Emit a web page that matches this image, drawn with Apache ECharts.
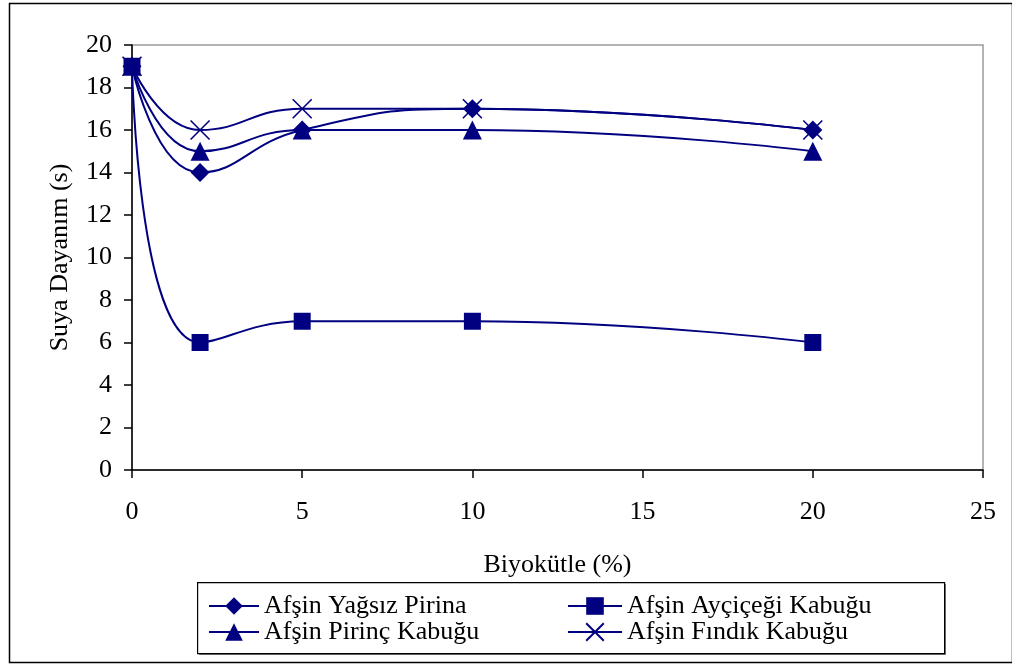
<!DOCTYPE html>
<html>
<head>
<meta charset="utf-8">
<script src="https://cdn.jsdelivr.net/npm/echarts@6/dist/echarts.min.js"></script>
<style>
  html, body { margin: 0; padding: 0; background: #fff; }
  #chart { width: 1012px; height: 664px; }
</style>
</head>
<body>
<div id="chart"></div>
<script>
// Biomass ratio (%) on the x axis
const biyokutle = [0, 2, 5, 10, 20];

// Water resistance (s) for each biomass type
const yagsizPirina = [19, 14, 16, 17, 16];
const aycicegiKabugu = [19, 6, 7, 7, 6];
const pirincKabugu = [19, 15, 16, 16, 15];
const findikKabugu = [19, 16, 17, 17, 16];

const seriesNames = [
  'Afşin Yağsız Pirina',
  'Afşin Ayçiçeği Kabuğu',
  'Afşin Pirinç Kabuğu',
  'Afşin Fındık Kabuğu'
];

const NAVY = '#000080';
const FONT = '"Liberation Serif", "Times New Roman", serif';
const FS = 26;

function pairs(ys) {
  return biyokutle.map((x, i) => [x, ys[i]]);
}

function lineSeries(name, ys, symbol, size, extra) {
  return Object.assign({
    name: name,
    type: 'line',
    data: pairs(ys),
    smooth: 0.5,
    symbol: symbol,
    symbolSize: size,
    showAllSymbol: true,
    lineStyle: { color: NAVY, width: 2 },
    itemStyle: { color: NAVY },
    emphasis: { disabled: true },
    animation: false
  }, extra || {});
}

const chart = echarts.init(document.getElementById('chart'), null, { renderer: 'canvas' });

const textStyle = { fontFamily: FONT, fontSize: FS, color: '#000' };

chart.setOption({
  backgroundColor: '#fff',
  animation: false,
  grid: {
    left: 132, right: 29, top: 45, bottom: 194,
    show: true, borderColor: '#9a9a9a', borderWidth: 1.5, backgroundColor: '#fff'
  },
  xAxis: {
    type: 'value', min: 0, max: 25, interval: 5,
    name: 'Biyokütle (%)', nameLocation: 'middle', nameGap: 82,
    nameTextStyle: textStyle,
    axisLine: { show: true, onZero: false, lineStyle: { color: '#000', width: 1.5 } },
    axisTick: { show: true, inside: false, length: 8, lineStyle: { color: '#000', width: 1.5 } },
    axisLabel: Object.assign({ margin: 29 }, textStyle),
    splitLine: { show: false }
  },
  yAxis: {
    type: 'value', min: 0, max: 20, interval: 2,
    name: 'Suya Dayanım (s)', nameLocation: 'middle', nameGap: 59, nameRotate: 90,
    nameTextStyle: textStyle,
    axisLine: { show: true, lineStyle: { color: '#000', width: 1.5 } },
    axisTick: { show: true, inside: false, length: 8, lineStyle: { color: '#000', width: 1.5 } },
    axisLabel: Object.assign({ margin: 20 }, textStyle),
    splitLine: { show: false }
  },
  legend: [
    {
      orient: 'vertical', left: 208, top: 593, itemGap: 0, padding: 0,
      itemWidth: 50, itemHeight: 22,
      data: [seriesNames[0], seriesNames[2]],
      textStyle: textStyle, selectedMode: false
    },
    {
      orient: 'vertical', left: 567, top: 593, itemGap: 0, padding: 0,
      itemWidth: 54, itemHeight: 22,
      data: [seriesNames[1], seriesNames[3]],
      textStyle: textStyle, selectedMode: false
    }
  ],
  graphic: [
    // outer frame around the whole figure
    { type: 'rect', left: 7, top: 1, shape: { width: 1003, height: 659 },
      style: { fill: null, stroke: '#000', lineWidth: 1.5 }, silent: true, z: 100 },
    // legend box shadow
    { type: 'rect', left: 199, top: 584, shape: { width: 747, height: 71 },
      style: { fill: '#808080' }, silent: true, z: -1 },
    // legend box
    { type: 'rect', left: 197, top: 582, shape: { width: 747, height: 71 },
      style: { fill: '#fff', stroke: '#000', lineWidth: 1.2 }, silent: true, z: -1 }
  ],
  series: [
    lineSeries(seriesNames[0], yagsizPirina, 'diamond', 19),
    lineSeries(seriesNames[1], aycicegiKabugu, 'rect', 17),
    lineSeries(seriesNames[2], pirincKabugu, 'triangle', 19),
    lineSeries(seriesNames[3], findikKabugu, 'path://M0,0L10,10M10,0L0,10', 19, {
      itemStyle: { color: 'none', borderColor: NAVY, borderWidth: 1.6 }
    })
  ]
});
</script>
</body>
</html>
